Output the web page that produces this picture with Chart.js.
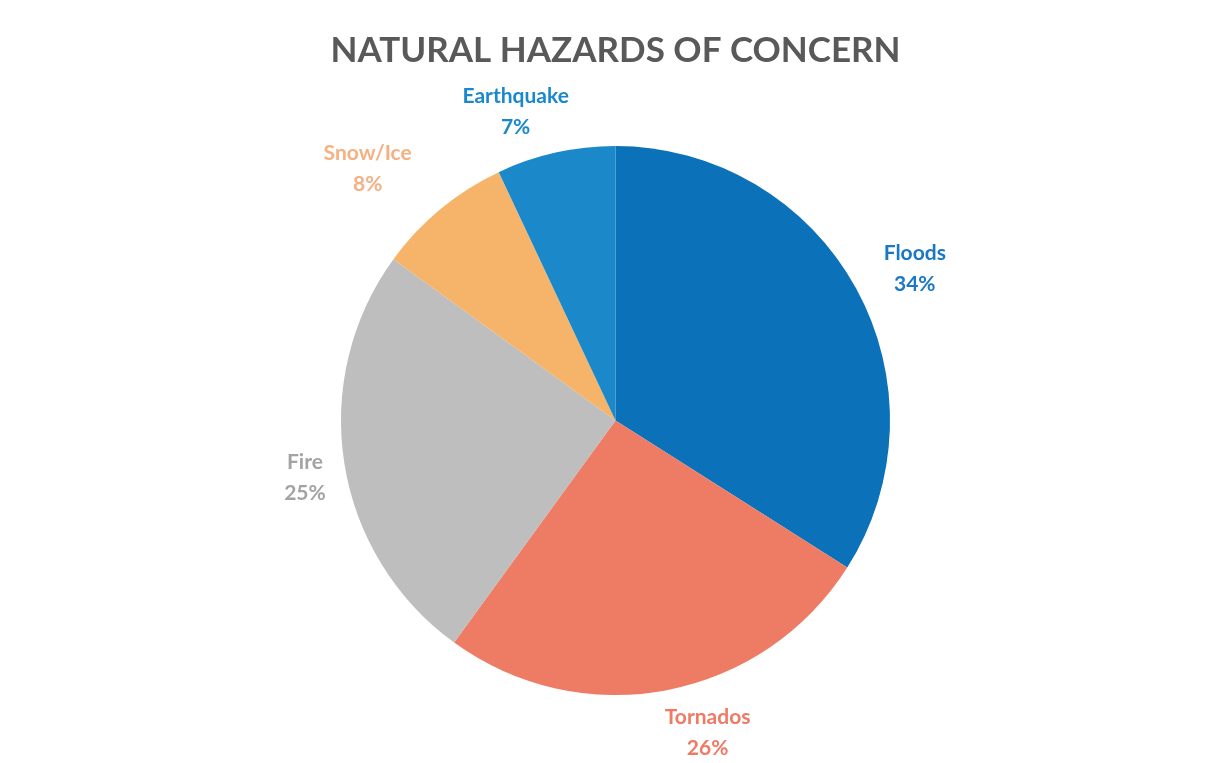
<!DOCTYPE html>
<html>
<head>
<meta charset="utf-8">
<script src="https://cdn.jsdelivr.net/npm/chart.js@4"></script>
<style>
  html, body { margin: 0; padding: 0; background: #fff; }
  #wrap { width: 1231px; height: 763px; }
</style>
</head>
<body>
<div id="wrap"><canvas id="pie-canvas" width="1231" height="763"></canvas></div>
<script>
const hazardLabels = ["Floods", "Tornados", "Fire", "Snow/Ice", "Earthquake"];
const hazardValues = [34, 26, 25, 8, 7];
const sliceColors = ["#0B71B9", "#EE7C64", "#BEBEBE", "#F5B469", "#1B88C9"];
const labelColors = ["#1A78C4", "#F07A64", "#A3A3A3", "#F4B183", "#1A88CE"];
// small hand nudges so the labels sit where the original put them
const labelNudge = [[9, 7], [31, -9], [1, 7], [-31, 10], [-28, 12]];

var pieChart

// draws "Name / NN%" outside each slice, using the arc geometry from Chart.js
const outsideLabels = {
  id: 'outsideLabels',
  afterDatasetsDraw(chart) {
    const ctx = chart.ctx;
    const meta = chart.getDatasetMeta(0);
    const total = hazardValues.reduce((a, b) => a + b, 0);
    ctx.save();
    ctx.font = "bold 21px Lato";
    ctx.textAlign = "center";
    ctx.textBaseline = "middle";
    meta.data.forEach((arc, i) => {
      const p = arc.getProps(['x', 'y', 'startAngle', 'endAngle', 'outerRadius'], true);
      const mid = (p.startAngle + p.endAngle) / 2;
      const pct = Math.round(hazardValues[i] / total * 100) + "%";
      const w = Math.max(ctx.measureText(hazardLabels[i]).width, ctx.measureText(pct).width);
      const h = 56;
      const c = Math.cos(mid), s = Math.sin(mid);
      const ext = Math.abs(c) * w / 2 + Math.abs(s) * h / 2;
      const d = p.outerRadius + 16 + ext;
      const cx = p.x + c * d + labelNudge[i][0];
      const cy = p.y + s * d + labelNudge[i][1];
      ctx.fillStyle = labelColors[i];
      ctx.fillText(hazardLabels[i], cx, cy - 15);
      ctx.fillText(pct, cx, cy + 16);
    });
    ctx.restore();
  }
};

main();

function main() {
  const ctxPie = document.getElementById("pie-canvas");
  pieChart = new Chart(ctxPie, {
    type: 'pie',
    data: {
      labels: hazardLabels,
      datasets: [{
        data: hazardValues,
        backgroundColor: sliceColors,
        borderWidth: 0
      }]
    },
    options: {
      responsive: false,
      animation: false,
      layout: { padding: { top: 0, bottom: 68, left: 0, right: 0 } },
      plugins: {
        legend: { display: false },
        tooltip: { enabled: false },
        title: {
          display: true,
          text: "NATURAL HAZARDS OF CONCERN",
          color: "#595959",
          font: { family: "Lato", size: 35, weight: "bold" },
          padding: { top: 30, bottom: 74 }
        }
      }
    },
    plugins: [outsideLabels]
  });
}
</script>
</body>
</html>
